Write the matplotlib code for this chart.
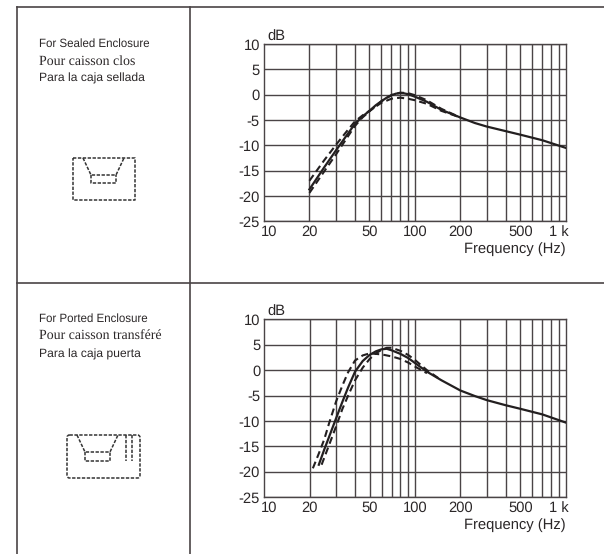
# response curves for sealed and ported enclosure
import matplotlib
matplotlib.use('Agg')
import matplotlib.pyplot as plt
from matplotlib.patches import FancyBboxPatch
from matplotlib.transforms import ScaledTranslation

plt.rcParams['font.family'] = ['Liberation Sans', 'DejaVu Sans']
plt.rcParams['text.hinting'] = 'no_hinting'

W, H = 604, 554
LINE = '#4a4446'
TEXT = '#2b2728'

# shared axis stuff
grid_freq = [20, 30, 40, 50, 60, 70, 80, 90, 100, 200, 300, 400, 500, 600, 700, 800, 900]
tick_freq = [10, 20, 50, 100, 200, 500, 1000]
tick_freq_labels = ['10', '20', '50', '100', '200', '500', '1 k']
tick_db = [10, 5, 0, -5, -10, -15, -20, -25]
tick_db_labels = ['10', '5', '0', '-5', '-10', '-15', '-20', '-25']

# sealed enclosure
sealed_f = [20, 25, 30, 35, 40, 45, 50, 55, 60, 65, 70, 75, 80, 85, 90, 100, 120, 150, 200, 250, 300, 400, 500, 700, 1000]
sealed_solid = [-18.7, -14.4, -11.0, -8.2, -5.8, -4.3, -3.2, -2.1, -1.3, -0.6, -0.1, 0.2, 0.3, 0.25, 0.1, -0.4, -1.4, -3.0, -4.5, -5.6, -6.3, -7.2, -7.9, -9.0, -10.5]
sealed_dash_hi_f = [20, 25, 30, 35, 40, 45, 50, 60, 70, 80, 90, 100, 120, 150, 200]
sealed_dash_hi = [-17.0, -13.0, -9.9, -7.4, -5.3, -4.1, -3.2, -1.6, -0.8, -0.6, -0.8, -1.1, -1.8, -3.2, -4.5]
sealed_dash_lo_f = [20, 25, 30, 35, 40, 45, 50, 60, 70, 80, 90, 100, 120, 150, 200]
sealed_dash_lo = [-19.4, -15.2, -11.8, -8.8, -6.2, -4.5, -3.3, -1.3, -0.1, 0.4, 0.3, -0.1, -1.1, -2.8, -4.5]

# ported enclosure
ported_f = [23, 25, 27, 30, 33, 36, 40, 45, 50, 55, 60, 65, 70, 80, 90, 100, 120, 150, 200, 250, 300, 400, 500, 700, 1000]
ported_solid = [-18.6, -15.6, -13.0, -9.4, -6.2, -3.4, -0.3, 1.8, 3.0, 3.7, 4.1, 4.2, 3.9, 3.2, 2.4, 1.4, -0.3, -2.0, -4.0, -5.1, -5.9, -6.9, -7.6, -8.7, -10.3]
ported_dash_hi_f = [21, 23, 25, 27, 30, 33, 36, 40, 45, 50, 60, 70, 80, 90, 100, 120]
ported_dash_hi = [-19.3, -16.4, -13.6, -10.3, -6.1, -3.0, -0.4, 1.9, 2.9, 3.3, 3.1, 2.7, 2.2, 1.5, 0.7, -0.6]
ported_dash_lo_f = [24, 27, 30, 33, 36, 40, 45, 50, 55, 60, 65, 70, 80, 90, 100, 120, 150]
ported_dash_lo = [-18.6, -14.6, -11.0, -7.6, -5.0, -2.0, 0.5, 2.2, 3.3, 4.0, 4.4, 4.4, 3.8, 3.0, 2.0, 0.0, -2.0]

sealed_text = ['For Sealed Enclosure', 'Pour caisson clos', 'Para la caja sellada']
ported_text = ['For Ported Enclosure', 'Pour caisson transféré', 'Para la caja puerta']
text_fonts = ['Liberation Sans', 'Liberation Serif', 'Liberation Sans']
text_sizes = [8.3, 10.0, 8.7]


def response_plot(fig, box, f, solid, f_hi, dash_hi, f_lo, dash_lo):
    left, top, right, bottom = box
    ax = fig.add_axes([left / W, 1 - bottom / H, (right - left) / W, (bottom - top) / H])
    ax.set_xscale('log')
    ax.set_xlim(10, 1000)
    ax.set_ylim(-25, 10)
    ax.set_xticks(tick_freq)
    ax.set_xticklabels(tick_freq_labels, fontsize=10.6, color=TEXT)
    ax.minorticks_off()
    ax.set_yticks(tick_db)
    ax.set_yticklabels(tick_db_labels, fontsize=10.6, color=TEXT)
    ax.tick_params(length=0, pad=3)
    for x in grid_freq:
        ax.axvline(x, color=LINE, lw=1.0, zorder=1)
    for y in tick_db:
        ax.axhline(y, color=LINE, lw=1.0, zorder=1)
    for s in ax.spines.values():
        s.set_color(LINE)
        s.set_linewidth(1.0)

    # end labels sit inside the axis ends
    labels = ax.get_xticklabels()
    labels[0].set_transform(labels[0].get_transform() + ScaledTranslation(5 / 100, 0, fig.dpi_scale_trans))
    labels[-1].set_transform(labels[-1].get_transform() + ScaledTranslation(-7 / 100, 0, fig.dpi_scale_trans))

    ax.plot(f_hi, dash_hi, color='#231f20', lw=1.5, ls=(0, (3.4, 2.0)), zorder=3)
    ax.plot(f_lo, dash_lo, color='#231f20', lw=1.5, ls=(0, (3.4, 2.0)), zorder=3)
    ax.plot(f, solid, color='#231f20', lw=1.6, solid_joinstyle='round', zorder=4)

    ax.text(left + 3, top - 7.5, 'dB', transform=over.transData, fontsize=10.6, ha='left', va='center', color=TEXT)
    ax.text(right, bottom + 28, 'Frequency (Hz)', transform=over.transData, fontsize=10.6, ha='right', va='center', color=TEXT)
    return ax


def dashed(xs, ys):
    over.plot(xs, ys, color='#333333', lw=1.1, ls=(0, (2.2, 1.0)))


fig = plt.figure(figsize=(W / 100, H / 100), dpi=100)

# page sized layer for the table rules, captions and box sketches
over = fig.add_axes([0, 0, 1, 1])
over.set_xlim(0, W)
over.set_ylim(H, 0)
over.axis('off')

over.plot([16.5, W], [6.5, 6.5], color=LINE, lw=1.2)
over.plot([16.5, W], [282.5, 282.5], color=LINE, lw=1.2)
over.plot([16.5, 16.5], [6.5, H], color=LINE, lw=1.2)
over.plot([190, 190], [6.5, H], color=LINE, lw=1.2)

for i in range(3):
    over.text(39, 44 + 17.3 * i, sealed_text[i], family=text_fonts[i], fontsize=text_sizes[i], ha='left', va='center', color=TEXT)
    over.text(39, 319 + 17.8 * i, ported_text[i], family=text_fonts[i], fontsize=text_sizes[i], ha='left', va='center', color=TEXT)

# sealed box sketch
dashed([72.5, 134.5, 134.5, 72.5, 72.5], [158, 158, 200, 200, 158])
dashed([83, 91, 116, 124], [158, 175, 175, 158])
dashed([91, 91, 116, 116], [175, 183, 183, 175])

# ported box sketch, corners rounded a little
over.add_patch(FancyBboxPatch((67, 435), 73, 43, boxstyle='round,pad=0,rounding_size=2.5',
                              fill=False, edgecolor='#333333', lw=1.1, ls=(0, (2.2, 1.0))))
dashed([77, 85, 110, 118], [435, 452, 452, 435])
dashed([85, 85, 110, 110], [452, 461, 461, 452])
dashed([126, 126], [435, 461])
dashed([131.5, 131.5], [435, 461])

response_plot(fig, (264, 44, 565.7, 221.3), sealed_f, sealed_solid,
              sealed_dash_hi_f, sealed_dash_hi, sealed_dash_lo_f, sealed_dash_lo)
response_plot(fig, (264.3, 319.3, 565.7, 497.3), ported_f, ported_solid,
              ported_dash_hi_f, ported_dash_hi, ported_dash_lo_f, ported_dash_lo)

fig.savefig('out.png', dpi=100)
